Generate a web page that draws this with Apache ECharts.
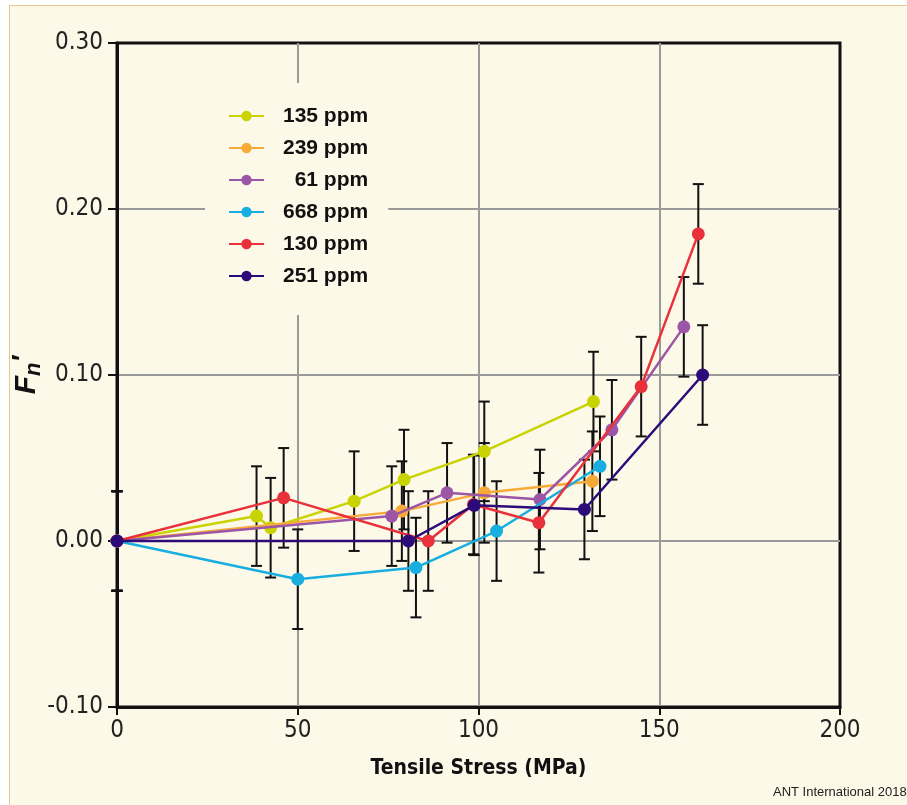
<!DOCTYPE html>
<html>
<head>
<meta charset="utf-8">
<script src="https://cdn.jsdelivr.net/npm/echarts@6/dist/echarts.min.js"></script>
<style>
  body { margin: 0; background: #fff; }
  #paper {
    position: absolute; left: 9px; top: 5px; width: 898px; height: 800px;
    background: #fdf9e9; border-left: 1.5px solid #e8c690; border-top: 1.5px solid #e8c690;
  }
  #chart { position: absolute; left: 0; top: 0; width: 907px; height: 805px; }
</style>
</head>
<body>
<div id="paper"></div>
<div id="chart"></div>
<script>
// series names, as in the legend (figure space keeps "61" right aligned)
const names = ['135 ppm', '239 ppm', '\u200761 ppm', '668 ppm', '130 ppm', '251 ppm']
const colors = ['#c9d300', '#f8aa38', '#9b56a6', '#18afe0', '#e8313a', '#2c0a78']

// tensile stress (MPa) / Fn' / error half-width
const x135 = [0, 38.6, 42.5, 65.6, 79.4, 101.6, 131.8]
const y135 = [0, 0.015, 0.008, 0.024, 0.037, 0.054, 0.084]
const e135 = [0.03, 0.03, 0.03, 0.03, 0.03, 0.03, 0.03]

const x239 = [0, 78.8, 101.6, 131.5]
const y239 = [0, 0.018, 0.029, 0.036]
const e239 = [0.03, 0.03, 0.03, 0.03]

const x61 = [0, 76.0, 91.3, 117.0, 136.9, 156.8]
const y61 = [0, 0.015, 0.029, 0.025, 0.067, 0.129]
const e61 = [0.03, 0.03, 0.03, 0.03, 0.03, 0.03]

const x668 = [0, 50.0, 82.7, 105.0, 133.6]
const y668 = [0, -0.023, -0.016, 0.006, 0.045]
const e668 = [0.03, 0.03, 0.03, 0.03, 0.03]

const x130 = [0, 46.1, 86.1, 98.6, 116.7, 145.0, 160.8]
const y130 = [0, 0.026, 0, 0.022, 0.011, 0.093, 0.185]
const e130 = [0.03, 0.03, 0.03, 0.03, 0.03, 0.03, 0.03]

const x251 = [0, 80.6, 98.8, 129.3, 162.0]
const y251 = [0, 0, 0.0215, 0.019, 0.100]
const e251 = [0.03, 0.03, 0.03, 0.03, 0.03]

const xs = [x135, x239, x61, x668, x130, x251]
const ys = [y135, y239, y61, y668, y130, y251]
const es = [e135, e239, e61, e668, e130, e251]

const narrow = "'DejaVu Sans Condensed', 'Liberation Sans Narrow', sans-serif"
const sans = "'Liberation Sans', Arial, sans-serif"

const chart = echarts.init(document.getElementById('chart'))

function errorBars (params, api) {
  const x = api.value(0)
  const y = api.value(1)
  const e = api.value(2)
  const top = api.coord([x, y + e])
  const bot = api.coord([x, y - e])
  const w = 5.5
  const style = { stroke: '#111', lineWidth: 2 }
  return {
    type: 'group',
    children: [
      { type: 'line', shape: { x1: top[0], y1: top[1], x2: bot[0], y2: bot[1] }, style },
      { type: 'line', shape: { x1: top[0] - w, y1: top[1], x2: top[0] + w, y2: top[1] }, style },
      { type: 'line', shape: { x1: bot[0] - w, y1: bot[1], x2: bot[0] + w, y2: bot[1] }, style }
    ]
  }
}

const series = []
names.forEach((name, i) => {
  series.push({
    type: 'custom',
    name: 'err' + i,
    renderItem: errorBars,
    encode: { x: 0, y: 1 },
    data: xs[i].map((x, k) => [x, ys[i][k], es[i][k]]),
    z: 2,
    silent: true
  })
})
names.forEach((name, i) => {
  series.push({
    type: 'line',
    name,
    data: xs[i].map((x, k) => [x, ys[i][k]]),
    color: colors[i],
    symbol: 'circle',
    symbolSize: 13,
    lineStyle: { width: 2.5 },
    z: 3 + i
  })
})

chart.setOption({
  backgroundColor: 'transparent',
  animation: false,
  grid: {
    left: 117, right: 67, top: 43, bottom: 98,
    outerBoundsMode: 'none', containLabel: false,
    show: true, borderColor: '#111', borderWidth: 3, backgroundColor: 'transparent'
  },
  legend: {
    data: names,
    orient: 'vertical',
    left: 205, top: 83,
    padding: [21, 20, 27, 23],
    backgroundColor: '#fdf9e9',
    itemWidth: 35, itemHeight: 13, itemGap: 8,
    textStyle: { fontFamily: sans, fontWeight: 'bold', fontSize: 21, color: '#111', lineHeight: 24, padding: [0, 0, 0, 14] }
  },
  xAxis: {
    type: 'value', min: 0, max: 200, interval: 50,
    name: 'Tensile Stress (MPa)', nameLocation: 'middle', nameGap: 51,
    nameTextStyle: { fontFamily: narrow, fontWeight: 'bold', fontSize: 21, color: '#111' },
    axisLine: { show: true, onZero: false, lineStyle: { color: '#111', width: 3 } },
    axisTick: { show: true, length: 8, lineStyle: { color: '#111', width: 2 } },
    axisLabel: { fontFamily: narrow, fontSize: 24, color: '#222', margin: 12 },
    splitLine: { showMinLine: false, showMaxLine: false, lineStyle: { color: '#9a9a9a', width: 2 } }
  },
  yAxis: {
    type: 'value', min: -0.1, max: 0.3, interval: 0.1,
    name: '{f|F}{s|n}{p|′}', nameLocation: 'middle', nameRotate: 90, nameGap: 72,
    nameMoveOverlap: false,
    nameTextStyle: {
      rich: {
        f: { fontFamily: sans, fontStyle: 'italic', fontWeight: 'bold', fontSize: 30, color: '#111' },
        s: { fontFamily: sans, fontStyle: 'italic', fontWeight: 'bold', fontSize: 22, color: '#111', verticalAlign: 'bottom', padding: [12, 0, 0, 0] },
        p: { fontFamily: sans, fontStyle: 'italic', fontWeight: 'bold', fontSize: 28, color: '#111', padding: [0, 0, 8, 0] }
      }
    },
    axisLine: { show: true, onZero: false, lineStyle: { color: '#111', width: 3 } },
    axisTick: { show: true, length: 9, lineStyle: { color: '#111', width: 2 } },
    axisLabel: { fontFamily: narrow, fontSize: 24, color: '#222', margin: 14, formatter: v => v.toFixed(2) },
    splitLine: { showMinLine: false, showMaxLine: false, lineStyle: { color: '#9a9a9a', width: 2 } }
  },
  graphic: [{
    type: 'text', left: 773, top: 786,
    style: { text: 'ANT International 2018', fontFamily: sans, fontSize: 13, fill: '#222' }
  }],
  series
})
</script>
</body>
</html>
